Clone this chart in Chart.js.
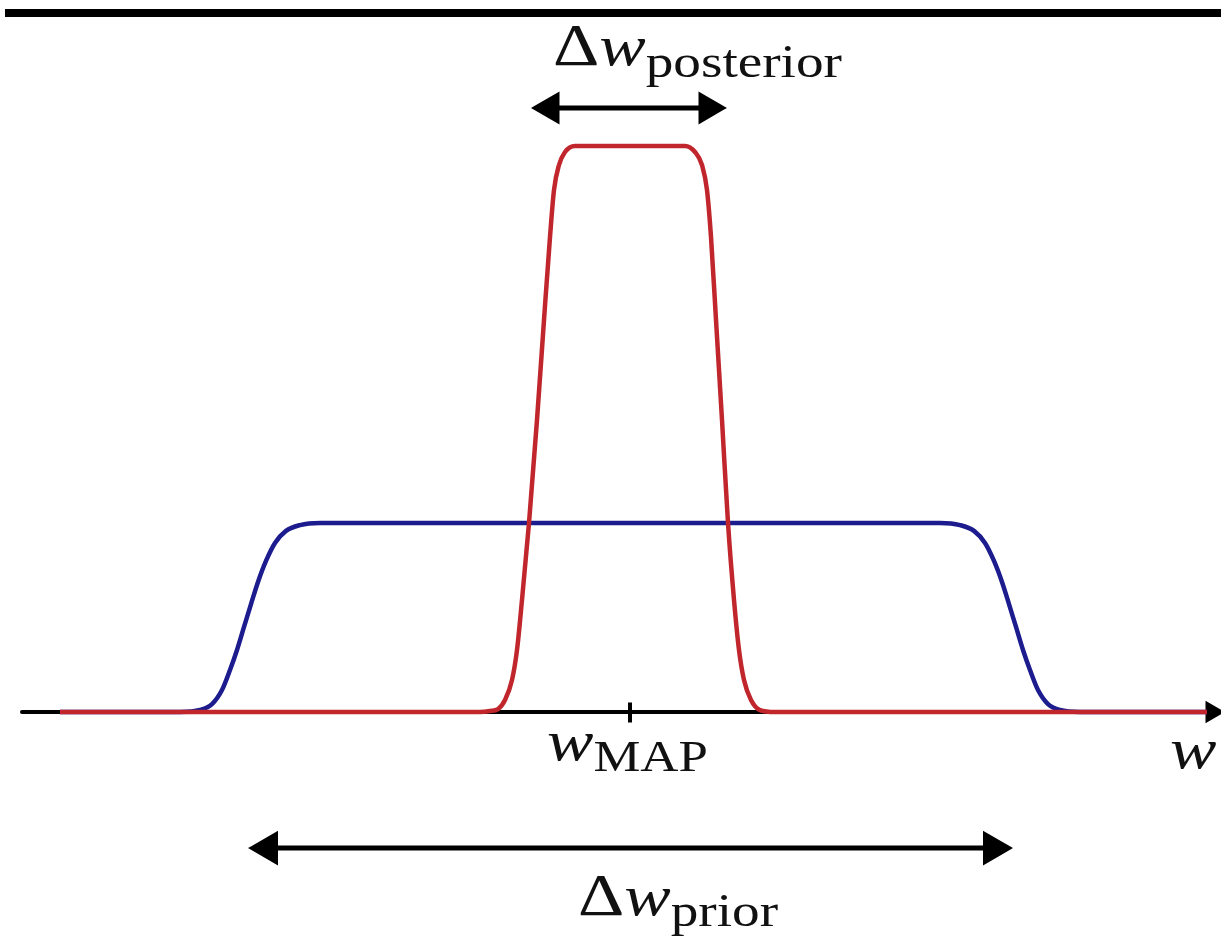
<!DOCTYPE html>
<html>
<head>
<meta charset="utf-8">
<script src="https://cdn.jsdelivr.net/npm/chart.js@4.4.1/dist/chart.umd.min.js"></script>
<style>
  body { margin: 0; background: #fff; }
  #wrap { width: 1221px; height: 942px; }
</style>
</head>
<body>
<div id="wrap"><canvas id="myChart"></canvas></div>
<script>
// w in units of 100px, height in units of the prior's plateau
var priorW = [-5.70, -4.50, -4.30, -4.18, -4.08, -4.00, -3.93, -3.86, -3.79, -3.72, -3.64, -3.55, -3.44, -3.30, -3.10,
              3.10, 3.30, 3.44, 3.55, 3.64, 3.72, 3.79, 3.86, 3.93, 4.00, 4.08, 4.18, 4.30, 4.50, 5.77];
var priorP = [0, 0, 0.011, 0.042, 0.116, 0.222, 0.328, 0.450, 0.571, 0.688, 0.799, 0.894, 0.958, 0.989, 1.0,
              1.0, 0.989, 0.958, 0.894, 0.799, 0.688, 0.571, 0.450, 0.328, 0.222, 0.116, 0.042, 0.011, 0, 0];

var postW = [-5.70, -1.50, -1.40, -1.32, -1.25, -1.18, -1.13, -1.08, -1.01, -0.93, -0.86, -0.80, -0.76, -0.71, -0.65, -0.55,
             0.55, 0.65, 0.72, 0.77, 0.81, 0.86, 0.92, 0.98, 1.04, 1.09, 1.14, 1.21, 1.30, 1.45, 5.77];
var postP = [0, 0, 0.005, 0.015, 0.063, 0.169, 0.328, 0.593, 1.000, 1.545, 2.074, 2.513, 2.762, 2.894, 2.963, 2.995,
             2.995, 2.963, 2.894, 2.762, 2.513, 2.074, 1.545, 1.000, 0.593, 0.328, 0.169, 0.063, 0.01, 0, 0];

var axisW = [-6.08, 5.82];
var wMap = 0;
var postArrowW = [-0.80, 0.78];
var postArrowY = 3.196;
var priorArrowW = [-3.62, 3.63];
var priorArrowY = -0.72;
var topBarW = [-6.25, 5.91];
var topBarY = 3.698;

var mathLabels = [
  { x: -0.77, y: 3.423, parts: [['\u0394', '', 60, 0], ['w', 'italic', 58, 0], ['posterior', '', 46, 12]] },
  { x: -0.83, y: -0.254, parts: [['w', 'italic', 58, 0], ['MAP', '', 44, 11]] },
  { x: 5.40, y: -0.296, parts: [['w', 'italic', 58, 0]] },
  { x: -0.52, y: -1.074, parts: [['\u0394', '', 60, 0], ['w', 'italic', 58, 0], ['prior', '', 46, 11]] }
];
var textStretch = 1.2;

function pts(xs, ys) {
  return xs.map(function (x, i) { return { x: x, y: Array.isArray(ys) ? ys[i] : ys }; });
}

var mathText = {
  id: 'mathText',
  afterDatasetsDraw: function (chart) {
    var ctx = chart.ctx;
    var xs = chart.scales.x, ys = chart.scales.y;
    ctx.save();
    ctx.fillStyle = '#111';
    ctx.textBaseline = 'alphabetic';
    ctx.textAlign = 'left';
    mathLabels.forEach(function (lb) {
      ctx.save();
      ctx.translate(xs.getPixelForValue(lb.x), ys.getPixelForValue(lb.y));
      ctx.scale(textStretch, 1);
      var cx = 0;
      lb.parts.forEach(function (p) {
        ctx.font = (p[1] ? p[1] + ' ' : '') + p[2] + 'px "Liberation Serif"';
        ctx.fillText(p[0], cx, p[3]);
        cx += ctx.measureText(p[0]).width;
      });
      ctx.restore();
    });
    ctx.restore();
  }
};

var ctx = document.getElementById('myChart');

var myChart = new Chart(ctx, {
  type: 'scatter',
  data: {
    datasets: [{
      data: pts(postW, postP),
      borderColor: '#c0262c',
      borderWidth: 4.5,
      cubicInterpolationMode: 'monotone',
      order: 1
    }, {
      data: pts(priorW, priorP),
      borderColor: '#1c1c8f',
      borderWidth: 4.5,
      cubicInterpolationMode: 'monotone',
      order: 2
    }, {
      data: pts(axisW, 0),
      borderColor: '#000',
      borderWidth: 4,
      borderCapStyle: 'round',
      pointRadius: [0, 9],
      pointStyle: 'triangle',
      rotation: 90,
      pointBackgroundColor: '#000',
      pointBorderColor: '#000',
      order: 3
    }, {
      data: [{ x: wMap, y: 0.05 }, { x: wMap, y: -0.055 }],
      borderColor: '#000',
      borderWidth: 4,
      order: 0
    }, {
      data: pts(postArrowW, postArrowY),
      borderColor: '#000',
      borderWidth: 5,
      pointRadius: 14,
      pointStyle: 'triangle',
      rotation: [-90, 90],
      pointBackgroundColor: '#000',
      pointBorderColor: '#000',
      order: 0
    }, {
      data: pts(priorArrowW, priorArrowY),
      borderColor: '#000',
      borderWidth: 5,
      pointRadius: 15,
      pointStyle: 'triangle',
      rotation: [-90, 90],
      pointBackgroundColor: '#000',
      pointBorderColor: '#000',
      order: 0
    }, {
      data: pts(topBarW, topBarY),
      borderColor: '#000',
      borderWidth: 8,
      order: 0
    }]
  },
  options: {
    responsive: true,
    maintainAspectRatio: false,
    animation: false,
    events: [],
    layout: { padding: 0, autoPadding: false },
    datasets: {
      scatter: { showLine: true, pointRadius: 0, clip: false }
    },
    plugins: {
      legend: { display: false },
      tooltip: { enabled: false }
    },
    scales: {
      x: { type: 'linear', display: false, min: -6.30, max: 5.91 },
      y: { type: 'linear', display: false, min: -1.217, max: 3.767 }
    }
  },
  plugins: [mathText]
});
</script>
</body>
</html>
